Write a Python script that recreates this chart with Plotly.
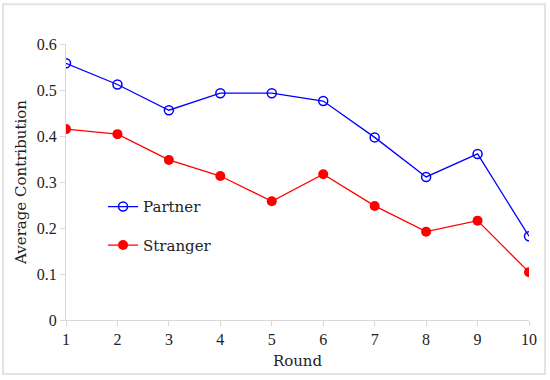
import plotly.graph_objects as go

rounds = [1, 2, 3, 4, 5, 6, 7, 8, 9, 10]
partner = [0.558, 0.512, 0.456, 0.493, 0.493, 0.476, 0.397, 0.311, 0.361, 0.182]
stranger = [0.415, 0.404, 0.348, 0.313, 0.258, 0.317, 0.248, 0.192, 0.216, 0.104]
x_ticks = [1, 2, 3, 4, 5, 6, 7, 8, 9, 10]
y_ticks = [0, 0.1, 0.2, 0.3, 0.4, 0.5, 0.6]
y_tick_text = ["0", "0.1", "0.2", "0.3", "0.4", "0.5", "0.6"]

FONT = "Liberation Serif"
TFONT = "DejaVu Serif"
fig = go.Figure()
fig.add_trace(go.Scatter(
    x=rounds, y=partner, name="Partner", mode="lines+markers",
    line=dict(color="#0000ff", width=1.3),
    marker=dict(symbol="circle-open", size=9, color="#0000ff", line=dict(width=1.5)),
    legendgroup="p",
))
fig.add_trace(go.Scatter(
    x=rounds, y=stranger, name="Stranger", mode="lines+markers",
    line=dict(color="#ff0000", width=1.3),
    marker=dict(symbol="circle", size=10, color="#ff0000"),
    legendgroup="s",
))

axis_common = dict(
    showgrid=False, zeroline=False, showline=True, linecolor="#d9d9d9", linewidth=1,
    ticks="outside", ticklen=5, tickcolor="#d9d9d9",
    tickfont=dict(family=FONT, size=16, color="#222"),
)
fig.update_layout(
    width=550, height=380,
    margin=dict(l=66, r=21, t=44, b=60),
    paper_bgcolor="white", plot_bgcolor="white",
    font=dict(family=TFONT, size=15, color="#222"),
    showlegend=True,
    xaxis=dict(range=[1, 10], tickvals=x_ticks, **axis_common,
               title=dict(text="Round", font=dict(family=TFONT, size=15, color="#222"), standoff=8)),
    yaxis=dict(range=[0, 0.6], tickvals=y_ticks, ticktext=y_tick_text, **axis_common,
               title=dict(text="Average Contribution", font=dict(family=TFONT, size=15, color="#222"), standoff=6)),
    legend=dict(x=0.08, y=0.47, xanchor="left", yanchor="top", bgcolor="rgba(0,0,0,0)",
                traceorder="grouped", tracegroupgap=16,
                font=dict(family=TFONT, size=15, color="#222")),
    shapes=[dict(type="rect", xref="paper", yref="paper",
                 x0=-0.136, x1=1.0346, y0=-0.1954, y1=1.1437,
                 line=dict(color="#e3e3e3", width=2), layer="below")],
)
fig.write_html("out.html", config={"displayModeBar": False},
               post_script="document.body.style.margin='0';")
